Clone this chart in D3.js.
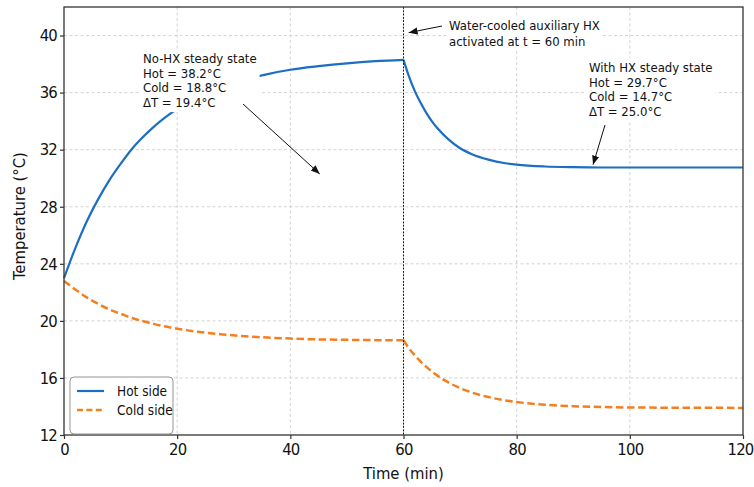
<!DOCTYPE html>
<html>
<head>
  <style>
    body { margin: 0; background: #fff; }
    text { font-family: "DejaVu Sans", sans-serif; font-stretch: condensed; fill: #111; }
    .grid line { stroke: #c8c8c8; stroke-width: 0.8px; stroke-dasharray: 3,2.5; }
  </style>
</head>
<body>
  <svg id="chart" width="754" height="487"></svg>

  <script src="https://d3js.org/d3.v7.min.js"></script>
  <script>
    // values
    const timeMin = [0, 2, 4, 6, 8, 10, 12, 14, 16, 18, 20, 24, 28, 32, 36, 40, 45, 50, 55, 60,
                     61, 62, 63, 64, 65, 66, 68, 70, 72, 75, 78, 80, 85, 90, 95, 100, 110, 120];
    const hotSide = [23.0, 25.1, 26.95, 28.5, 29.85, 31.0, 32.05, 32.9, 33.65, 34.3, 34.85, 35.75, 36.4, 36.9, 37.3, 37.6, 37.85, 38.05, 38.2, 38.3,
                     37.1, 36.1, 35.3, 34.6, 34.0, 33.5, 32.7, 32.1, 31.7, 31.3, 31.05, 30.95, 30.82, 30.77, 30.75, 30.75, 30.75, 30.75];
    const coldSide = [22.8, 22.2, 21.65, 21.2, 20.8, 20.5, 20.2, 19.97, 19.77, 19.6, 19.45, 19.22, 19.05, 18.92, 18.83, 18.76, 18.7, 18.67, 18.65, 18.64,
                      18.06, 17.58, 17.16, 16.79, 16.45, 16.16, 15.67, 15.29, 14.99, 14.66, 14.42, 14.31, 14.12, 14.02, 13.97, 13.93, 13.91, 13.9];
    const xTicks = [0, 20, 40, 60, 80, 100, 120];
    const yTicks = [12, 16, 20, 24, 28, 32, 36, 40];
    const hxStart = 60;

    const noHxNote = ["No-HX steady state", "Hot = 38.2°C", "Cold = 18.8°C", "ΔT = 19.4°C"];
    const hxNote = ["Water-cooled auxiliary HX", "activated at t = 60 min"];
    const withHxNote = ["With HX steady state", "Hot = 29.7°C", "Cold = 14.7°C", "ΔT = 25.0°C"];

    const hotColor = "#1b6ec2";
    const coldColor = "#f47f20";

    const svg = d3.select("#chart");
    const plot = { left: 64, right: 743, top: 7, bottom: 435 };

    const x = d3.scaleLinear().domain([0, 120]).range([plot.left, plot.right]);
    const y = d3.scaleLinear().domain([12, 42]).range([plot.bottom, plot.top]);

    // grid
    const grid = svg.append("g").attr("class", "grid");
    grid.selectAll(".gx").data(xTicks.slice(1, -1)).enter().append("line")
      .attr("x1", d => x(d)).attr("x2", d => x(d))
      .attr("y1", plot.top).attr("y2", plot.bottom);
    grid.selectAll(".gy").data(yTicks.slice(1)).enter().append("line")
      .attr("x1", plot.left).attr("x2", plot.right)
      .attr("y1", d => y(d)).attr("y2", d => y(d));

    // series, split at the HX switch so the kink stays sharp
    const rows = timeMin.map((t, i) => ({ t, hot: hotSide[i], cold: coldSide[i] }));
    const before = rows.filter(d => d.t <= hxStart);
    const after = rows.filter(d => d.t >= hxStart);

    const lineOf = key => d3.line().x(d => x(d.t)).y(d => y(d[key])).curve(d3.curveMonotoneX);

    [before, after].forEach(part => {
      svg.append("path").datum(part)
        .attr("d", lineOf("cold"))
        .attr("fill", "none").attr("stroke", coldColor)
        .attr("stroke-width", 2.5).attr("stroke-dasharray", "7.5,3.6");
      svg.append("path").datum(part)
        .attr("d", lineOf("hot"))
        .attr("fill", "none").attr("stroke", hotColor)
        .attr("stroke-width", 2.2);
    });

    // HX activation marker
    svg.append("line")
      .attr("x1", x(hxStart)).attr("x2", x(hxStart))
      .attr("y1", plot.top).attr("y2", plot.bottom)
      .attr("stroke", "#111").attr("stroke-width", 1)
      .attr("stroke-dasharray", "1.8,1.5");

    // frame + axes
    svg.append("rect")
      .attr("x", plot.left).attr("y", plot.top)
      .attr("width", plot.right - plot.left).attr("height", plot.bottom - plot.top)
      .attr("fill", "none").attr("stroke", "#333").attr("stroke-width", 1.3);

    const xAxis = svg.append("g")
      .attr("transform", `translate(0,${plot.bottom})`)
      .call(d3.axisBottom(x).tickValues(xTicks).tickSize(4).tickPadding(4));
    const yAxis = svg.append("g")
      .attr("transform", `translate(${plot.left},0)`)
      .call(d3.axisLeft(y).tickValues(yTicks).tickSize(4).tickPadding(3));
    [xAxis, yAxis].forEach(a => {
      a.select(".domain").remove();
      a.selectAll(".tick line").attr("stroke", "#333").attr("stroke-width", 1.2);
      a.selectAll(".tick text").attr("font-size", 16.5).attr("fill", "#111")
        .attr("letter-spacing", -0.8)
        .style("font-family", '"DejaVu Sans", sans-serif');
    });
    // last x label sits flush with the right edge, as in the reference
    xAxis.selectAll(".tick text").filter(d => d === 120)
      .attr("text-anchor", "end").attr("x", 10);

    svg.append("text")
      .attr("x", x(60)).attr("y", 479)
      .attr("text-anchor", "middle").attr("font-size", 16.5)
      .text("Time (min)");
    svg.append("text")
      .attr("transform", `translate(25,216) rotate(-90)`)
      .attr("text-anchor", "middle").attr("font-size", 16.5)
      .text("Temperature (°C)");

    // annotations
    const defs = svg.append("defs");
    defs.append("marker")
      .attr("id", "head").attr("viewBox", "0 0 10 10")
      .attr("refX", 10).attr("refY", 5)
      .attr("markerWidth", 9).attr("markerHeight", 9)
      .attr("markerUnits", "userSpaceOnUse")
      .attr("orient", "auto")
      .append("path").attr("d", "M0,1 L10,5 L0,9 Z").attr("fill", "#111");

    function note(lines, tx, ty, lineH) {
      const g = svg.append("g");
      const txt = g.append("text").attr("font-size", 13);
      lines.forEach((s, i) => {
        txt.append("tspan").attr("x", tx).attr("y", ty + i * lineH).text(s);
      });
      const b = txt.node().getBBox();
      g.insert("rect", "text")
        .attr("x", b.x - 3).attr("y", b.y - 2)
        .attr("width", b.width + 6).attr("height", b.height + 4)
        .attr("fill", "#fff");
    }
    function arrow(x1, y1, x2, y2) {
      svg.append("line")
        .attr("x1", x1).attr("y1", y1).attr("x2", x2).attr("y2", y2)
        .attr("stroke", "#111").attr("stroke-width", 1)
        .attr("marker-end", "url(#head)");
    }

    note(noHxNote, 143, 63, 14.7);
    arrow(243, 104, x(45.2), y(30.3));

    note(hxNote, 449, 30, 15.5);
    arrow(442, 26, x(60.9), y(40.2));

    note(withHxNote, 589, 72, 14.7);
    arrow(605, 125, x(93.5), y(30.95));

    // legend
    const leg = svg.append("g");
    leg.append("rect")
      .attr("x", 70).attr("y", 377).attr("width", 103).attr("height", 57)
      .attr("rx", 4).attr("fill", "#fff").attr("fill-opacity", 0.85)
      .attr("stroke", "#888").attr("stroke-width", 0.9);
    const legItems = [
      { label: "Hot side", color: hotColor, dash: null, width: 2.2 },
      { label: "Cold side", color: coldColor, dash: "6,3.4", width: 2.5 }
    ];
    legItems.forEach((d, i) => {
      const yy = 391 + i * 19;
      leg.append("line")
        .attr("x1", 77).attr("x2", 104).attr("y1", yy).attr("y2", yy)
        .attr("stroke", d.color).attr("stroke-width", d.width)
        .attr("stroke-dasharray", d.dash);
      leg.append("text")
        .attr("x", 117).attr("y", yy + 4.5)
        .attr("font-size", 13.5).text(d.label);
    });
  </script>
</body>
</html>
